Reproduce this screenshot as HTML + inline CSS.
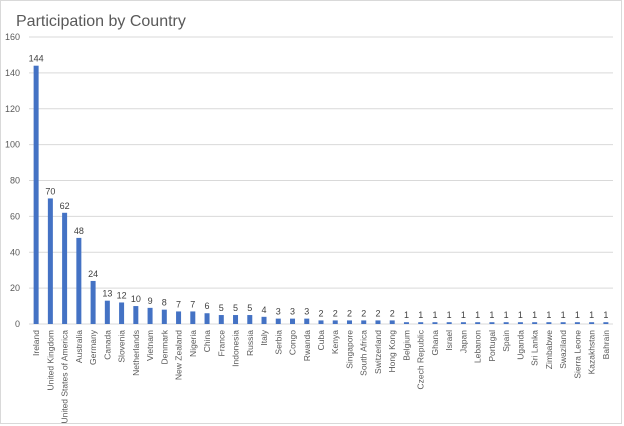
<!DOCTYPE html>
<html><head><meta charset="utf-8"><style>
body{margin:0;background:#fff;}
svg{display:block;font-family:"Liberation Sans",sans-serif;}
</style></head><body>
<svg width="624" height="426" viewBox="0 0 624 426" xmlns="http://www.w3.org/2000/svg">
<rect x="0.5" y="0.5" width="621" height="423" fill="#fff" stroke="#d9d9d9"/>
<text x="16" y="26" font-size="16" fill="#595959">Participation by Country</text>
<g id="g"></g>
</svg>
<script>
const d=[["Ireland",144],["United Kingdom",70],["United States of America",62],["Australia",48],["Germany",24],["Canada",13],["Slovenia",12],["Netherlands",10],["Vietnam",9],["Denmark",8],["New Zealand",7],["Nigeria",7],["China",6],["France",5],["Indonesia",5],["Russia",5],["Italy",4],["Serbia",3],["Congo",3],["Rwanda",3],["Cuba",2],["Kenya",2],["Singapore",2],["South Africa",2],["Switzerland",2],["Hong Kong",2],["Belgium",1],["Czech Republic",1],["Ghana",1],["Israel",1],["Japan",1],["Lebanon",1],["Portugal",1],["Spain",1],["Uganda",1],["Sri Lanka",1],["Zimbabwe",1],["Swaziland",1],["Sierra Leone",1],["Kazakhstan",1],["Bahrain",1]];
const g=document.getElementById('g');let s='';
const y0=324,k=(324-37)/160,x0=29,x1=613;
for(let v=0;v<=160;v+=20){const y=y0-v*k;
 if(v>0)s+=`<line x1="${x0}" x2="${x1}" y1="${y}" y2="${y}" stroke="#d9d9d9" stroke-width="1"/>`;
 s+=`<text x="20" y="${y+3}" font-size="9" fill="#595959" text-anchor="end">${v}</text>`;}
s+=`<line x1="${x0}" x2="${x1}" y1="${y0}" y2="${y0}" stroke="#d9d9d9"/>`;
const n=d.length,step=(x1-x0)/n;
d.forEach((r,i)=>{const cx=x0+step*(i+0.5),h=r[1]*k;
 s+=`<rect x="${cx-2.5}" y="${y0-h}" width="5" height="${h}" fill="#4472c4"/>`;
 s+=`<text x="${cx}" y="${y0-h-4}" font-size="9" fill="#404040" text-anchor="middle">${r[0]==="x"?"":r[1]}</text>`;
 s+=`<text transform="translate(${cx+3},330) rotate(-90)" font-size="8.5" fill="#595959" text-anchor="end">${r[0]}</text>`;});
g.innerHTML=s;
</script>
</body></html>
